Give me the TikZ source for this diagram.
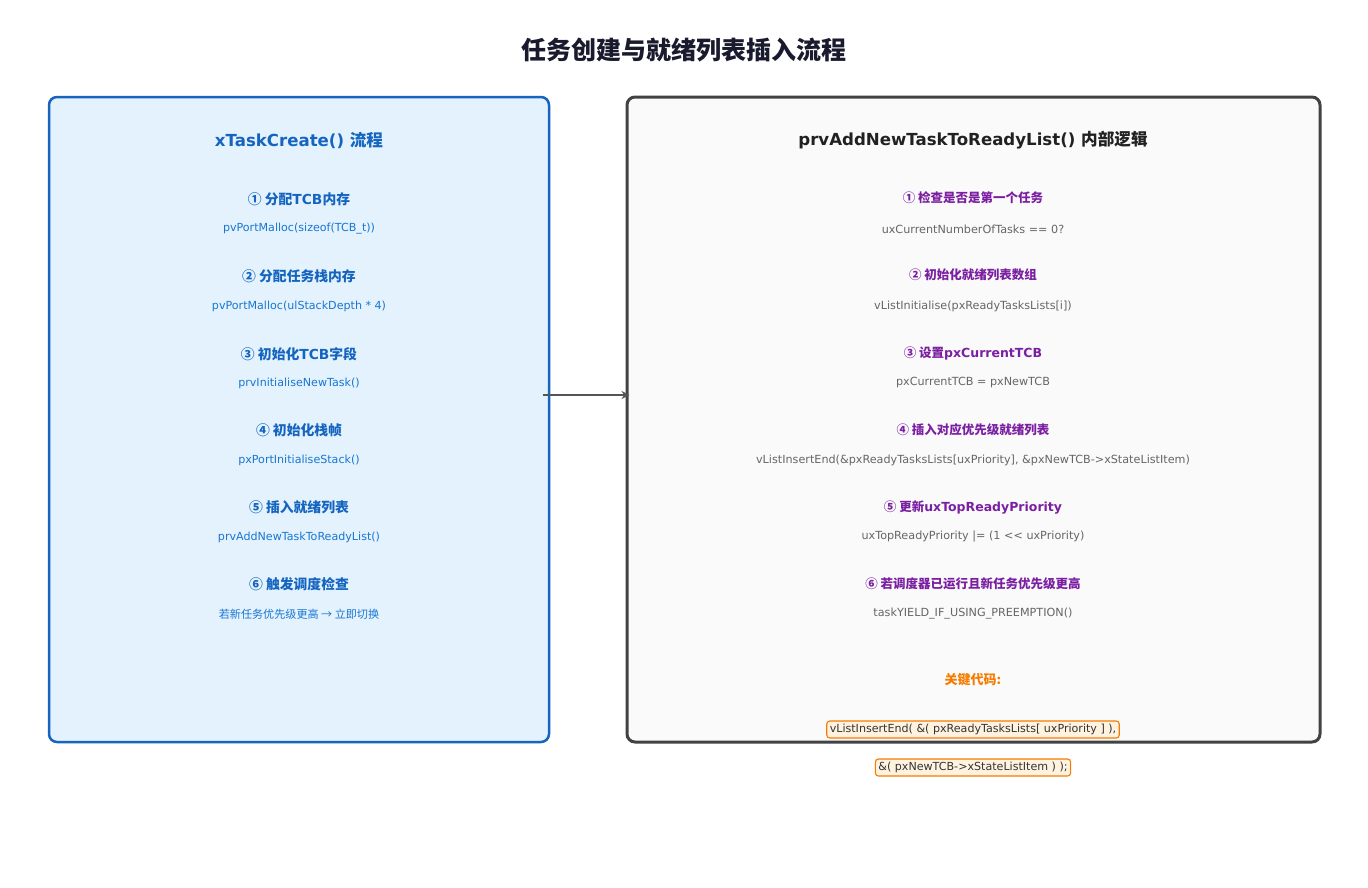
\documentclass[tikz,border=0pt]{standalone}
\usepackage{fontspec}
\setmainfont{DejaVu Sans}[Ligatures=NoCommon]
\newfontfamily\cjk{Noto Sans CJK SC}
\usetikzlibrary{arrows.meta,calc}
\definecolor{titlec}{HTML}{1A1A2E}
\definecolor{lblue}{HTML}{1565C0}
\definecolor{lcode}{HTML}{1976D2}
\definecolor{lfill}{HTML}{E3F2FD}
\definecolor{rfill}{HTML}{FAFAFA}
\definecolor{rdraw}{HTML}{424242}
\definecolor{rhead}{HTML}{7B1FA2}
\definecolor{rcode}{HTML}{666666}
\definecolor{orng}{HTML}{F57C00}
\definecolor{ofill}{HTML}{FFF3E0}
\definecolor{arrc}{HTML}{555555}
\tikzset{
  panel/.style={rounded corners=8pt, minimum width=#1, inner sep=0pt},
  lhead/.style={font=\fontsize{13.8}{16}\selectfont\bfseries, text=lblue, inner sep=0pt},
  lcodes/.style={font=\fontsize{11.1}{13}\selectfont, text=lcode, inner sep=0pt},
  rheads/.style={font=\fontsize{12.5}{15}\selectfont\bfseries, text=rhead, inner sep=0pt},
  rcodes/.style={font=\fontsize{11.2}{13}\selectfont, text=rcode, inner sep=0pt},
  codebox/.style={draw=orng, fill=ofill, line width=1.1pt, rounded corners=3pt, font=\fontsize{11.1}{13}\selectfont, text=black!80, inner xsep=3pt, inner ysep=0pt, minimum height=17pt},
  flow/.style={draw=arrc, line width=2.6pt, -{Stealth[length=8pt,width=8pt]}}
}
\begin{document}
\begin{tikzpicture}[x=1pt,y=-1pt]
\path[use as bounding box, fill=white] (0,0) rectangle (1368,887);
\node[font=\cjk\bfseries\fontsize{25}{29}\selectfont, text=titlec] (title) at (684,50) {任务创建与就绪列表插入流程};
% panels
\node[panel=500pt, minimum height=645pt, draw=lblue, fill=lfill, line width=2.5pt] (lbox) at (299,419.5) {};
\node[panel=693pt, minimum height=645pt, draw=rdraw, fill=rfill, line width=3pt] (rbox) at (973.5,419.5) {};
% left content
\node[font=\fontsize{16.6}{19}\selectfont\bfseries, text=lblue] (ltitle) at (299,140) {xTaskCreate() {\cjk 流程}};
\node[lhead] (l1) at (299,199) {{\cjk ① 分配}TCB{\cjk 内存}};
\node[lcodes] (l1c) at (299,229) {pvPortMalloc(sizeof(TCB\_t))};
\node[lhead] (l2) at (299,276) {{\cjk ② 分配任务栈内存}};
\node[lcodes] (l2c) at (299,306) {pvPortMalloc(ulStackDepth * 4)};
\node[lhead] (l3) at (299,354) {{\cjk ③ 初始化}TCB{\cjk 字段}};
\node[lcodes] (l3c) at (299,383) {prvInitialiseNewTask()};
\node[lhead] (l4) at (299,430) {{\cjk ④ 初始化栈帧}};
\node[lcodes] (l4c) at (299,460) {pxPortInitialiseStack()};
\node[lhead] (l5) at (299,507) {{\cjk ⑤ 插入就绪列表}};
\node[lcodes] (l5c) at (299,537) {prvAddNewTaskToReadyList()};
\node[lhead] (l6) at (299,584) {{\cjk ⑥ 触发调度检查}};
\node[lcodes] (l6c) at (299,614) {{\cjk 若新任务优先级更高 → 立即切换}};
% right content
\node[font=\fontsize{16.6}{19}\selectfont\bfseries, text=black!87] (rtitle) at (973,140) {prvAddNewTaskToReadyList() {\cjk 内部逻辑}};
\node[rheads] (r1) at (973,198) {{\cjk ① 检查是否是第一个任务}};
\node[rcodes] (r1c) at (973,229) {uxCurrentNumberOfTasks == 0?};
\node[rheads] (r2) at (973,275) {{\cjk ② 初始化就绪列表数组}};
\node[rcodes] (r2c) at (973,306) {vListInitialise(pxReadyTasksLists[i])};
\node[rheads] (r3) at (973,353) {{\cjk ③ 设置}pxCurrentTCB};
\node[rcodes] (r3c) at (973,383) {pxCurrentTCB = pxNewTCB};
\node[rheads] (r4) at (973,430) {{\cjk ④ 插入对应优先级就绪列表}};
\node[rcodes] (r4c) at (973,460) {vListInsertEnd(\&pxReadyTasksLists[uxPriority], \&pxNewTCB->xStateListItem)};
\node[rheads] (r5) at (973,507) {{\cjk ⑤ 更新}uxTopReadyPriority};
\node[rcodes] (r5c) at (973,537) {uxTopReadyPriority |= (1 {<}{<} uxPriority)};
\node[rheads] (r6) at (973,584) {{\cjk ⑥ 若调度器已运行且新任务优先级更高}};
\node[rcodes] (r6c) at (973,614) {taskYIELD\_IF\_USING\_PREEMPTION()};
\node[font=\cjk\bfseries\fontsize{13}{16}\selectfont, text=orng] (key) at (973,680) {关键代码:};
\node[codebox] (k1) at (973,729.5) {vListInsertEnd( \&( pxReadyTasksLists[ uxPriority ] ),};
\node[codebox] (k2) at (973,767.5) {\&( pxNewTCB->xStateListItem ) );};
% arrow
\coordinate (ay) at (0,395);
\draw[flow] ($(lbox.east|-ay)+(-7,0)$) -- ($(rbox.west|-ay)+(4,0)$);
\end{tikzpicture}
\end{document}
